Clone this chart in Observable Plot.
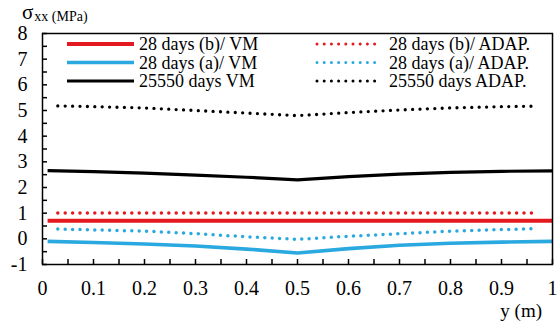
<!DOCTYPE html>
<html><head><meta charset="utf-8">
<script src="https://cdn.jsdelivr.net/npm/d3@7"></script>
<script src="https://cdn.jsdelivr.net/npm/@observablehq/plot@0.6"></script>
<style>body{margin:0;background:#fff}</style>
</head><body><div id="chart"></div>
<script>
// positions along y (m)
const xSolid = [0.01, 0.1, 0.2, 0.3, 0.4, 0.5, 0.6, 0.7, 0.8, 0.9, 1.0];
const xDotted = [0.03, 0.1, 0.2, 0.3, 0.4, 0.5, 0.6, 0.7, 0.8, 0.9, 0.97];
// sigma_xx (MPa)
const b28VM   = [0.7, 0.7, 0.7, 0.7, 0.7, 0.7, 0.7, 0.7, 0.7, 0.7, 0.7];
const a28VM   = [-0.1, -0.14, -0.2, -0.28, -0.4, -0.55, -0.38, -0.25, -0.17, -0.13, -0.1];
const d25550VM = [2.66, 2.62, 2.56, 2.48, 2.4, 2.3, 2.42, 2.52, 2.59, 2.63, 2.65];
const b28AD   = [1.01, 1.01, 1.01, 1.01, 1.01, 1.01, 1.01, 1.01, 1.01, 1.01, 1.01];
const a28AD   = [0.38, 0.35, 0.3, 0.2, 0.08, -0.02, 0.1, 0.2, 0.3, 0.36, 0.4];
const d25550AD = [5.18, 5.15, 5.1, 5.0, 4.9, 4.8, 4.92, 5.02, 5.1, 5.15, 5.17];

const yMajor = [-1, 0, 1, 2, 3, 4, 5, 6, 7, 8];
const yMinor = d3.range(-1, 8.01, 0.5);
const xMajor = [0, 0.1, 0.2, 0.3, 0.4, 0.5, 0.6, 0.7, 0.8, 0.9, 1];
const xMinor = d3.range(0, 1.001, 0.05);

const RED = "#e4191f", BLUE = "#2aa9e0", BLACK = "#000";
const series = [
  {name: "28 days (b)/ VM", x: xSolid, y: b28VM, color: RED, w: 4, dotted: false},
  {name: "28 days (a)/ VM", x: xSolid, y: a28VM, color: BLUE, w: 3.6, dotted: false},
  {name: "25550 days VM", x: xSolid, y: d25550VM, color: BLACK, w: 3.2, dotted: false},
  {name: "28 days (b)/ ADAP.", x: xDotted, y: b28AD, color: RED, w: 3.5, dotted: true},
  {name: "28 days (a)/ ADAP.", x: xDotted, y: a28AD, color: BLUE, w: 3.5, dotted: true},
  {name: "25550 days ADAP.", x: xDotted, y: d25550AD, color: BLACK, w: 3.3, dotted: true}
];

const FONT = "'Liberation Serif', 'Times New Roman', Times, 'DejaVu Serif', serif";

const lineMarks = series.map(s => Plot.line(s.x.map((x, i) => ({x, y: s.y[i]})), {
  x: "x", y: "y", stroke: s.color, strokeWidth: s.w,
  strokeLinecap: s.dotted ? "round" : "butt",
  strokeDasharray: s.dotted ? "0 7.4" : null
}));

const plot = Plot.plot({
  width: 557, height: 329,
  marginLeft: 42, marginRight: 5, marginTop: 33, marginBottom: 65,
  x: {domain: [0, 1]},
  y: {domain: [-1, 8]},
  style: {fontFamily: FONT, fontSize: "20px", color: "black", background: "white"},
  marks: [
    Plot.axisY(yMajor, {tickSize: 0, tickPadding: 15, fontSize: 20, fontFamily: FONT, label: null, tickFormat: d => String(d)}),
    Plot.axisY(yMinor, {tickSize: 5, dx: 5, tickFormat: () => "", label: null, strokeWidth: 1.5}),
    Plot.axisX(xMajor, {tickSize: 0, tickPadding: 16, fontSize: 20, fontFamily: FONT, label: null, tickFormat: d => String(d)}),
    Plot.axisX(xMinor, {tickSize: 5, dy: -5, tickFormat: () => "", label: null, strokeWidth: 1.5}),
    ...lineMarks,
    Plot.frame({stroke: "black", strokeWidth: 1.5})
  ]
});
document.getElementById("chart").append(plot);

const svg = d3.select(plot);
// y-axis title
const t = svg.append("text").attr("x", 22).attr("y", 18.8).attr("text-anchor", "start")
  .attr("font-family", FONT).attr("font-size", 21).attr("fill", "black");
t.append("tspan").text("σ");
t.append("tspan").attr("font-size", 14).attr("dy", 2.5).attr("dx", 1).text("xx (MPa)");
// x-axis title
svg.append("text").attr("x", 542).attr("y", 317).attr("text-anchor", "end")
  .attr("font-family", FONT).attr("font-size", 19).attr("fill", "black").text("y (m)");

// legend
const rowY = [44, 62.5, 81];
const cols = [{x1: 67, x2: 134, tx: 139}, {x1: 317, x2: 381, tx: 389}];
series.forEach((s, i) => {
  const c = cols[s.dotted ? 1 : 0], y = rowY[i % 3];
  svg.append("line").attr("x1", c.x1).attr("x2", c.x2).attr("y1", y).attr("y2", y)
    .attr("stroke", s.color).attr("stroke-width", s.dotted ? 3 : s.w)
    .attr("stroke-linecap", s.dotted ? "round" : "butt")
    .attr("stroke-dasharray", s.dotted ? "0 7.2" : null);
  svg.append("text").attr("x", c.tx).attr("y", y).attr("dy", "0.35em").attr("text-anchor", "start")
    .attr("font-family", FONT).attr("font-size", 18).attr("fill", "black").text(s.name);
});
</script>
</body></html>
